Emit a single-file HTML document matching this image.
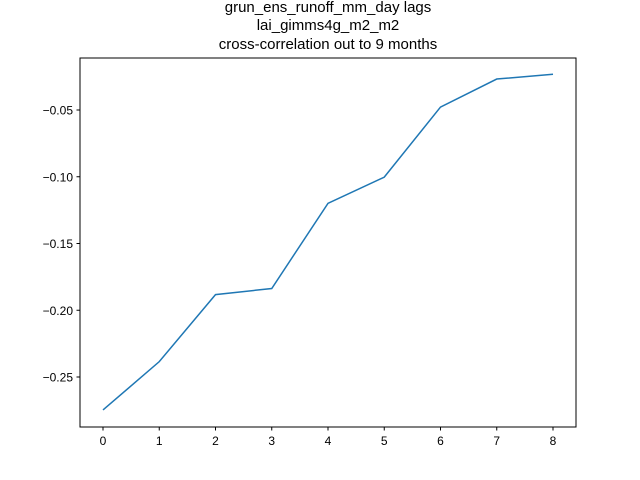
<!DOCTYPE html>
<html><head><meta charset="utf-8"><style>
body{margin:0;background:#fff}
svg{display:block;font-family:"Liberation Sans","DejaVu Sans",sans-serif}
</style></head><body>
<svg id="chart" width="640" height="480">
<rect width="640" height="480" fill="#fff"/>
<g font-size="15" text-anchor="middle" fill="#000">
<text x="328" y="12">grun_ens_runoff_mm_day lags</text>
<text x="328" y="30">lai_gimms4g_m2_m2</text>
<text x="328" y="49">cross-correlation out to 9 months</text>
</g>
<g id="ticks"></g>
<path id="line" fill="none" stroke="#1f77b4" stroke-width="1.5"/>
<rect x="80" y="58" width="496" height="369" fill="none" stroke="#000" stroke-width="1"/>
</svg>
<script>
const lags=[0,1,2,3,4,5,6,7,8];
const values=[-0.2747,-0.2385,-0.1883,-0.1837,-0.1199,-0.1003,-0.0478,-0.0268,-0.0232];
const yTicks=[-0.25,-0.20,-0.15,-0.10,-0.05];
const yTickLabels=["−0.25","−0.20","−0.15","−0.10","−0.05"];
const xTicks=[0,1,2,3,4,5,6,7,8];
const xs=v=>103+v*56.25;
const ys=v=>110+(-0.05-v)/0.05*66.75;
const NS="http://www.w3.org/2000/svg";
const g=document.getElementById('ticks');
function mk(t,a){const e=document.createElementNS(NS,t);for(const k in a)e.setAttribute(k,a[k]);return e;}
xTicks.forEach(t=>{
 const l=mk('line',{x1:xs(t),x2:xs(t),y1:427,y2:430.5,stroke:'#000'});
 
 
 g.appendChild(l);
 const tx=mk('text',{x:xs(t),y:445,'font-size':'12','text-anchor':'middle'});
 
 
 tx.textContent=t;g.appendChild(tx);
});
yTicks.forEach((t,i)=>{
 const l=mk('line',{x1:76.5,x2:80,y1:ys(t),y2:ys(t),stroke:'#000'});
 
 
 g.appendChild(l);
 const tx=mk('text',{x:73,y:ys(t)+4.5,'font-size':'12','text-anchor':'end'});
 
 
 tx.textContent=yTickLabels[i];g.appendChild(tx);
});
document.getElementById('line').setAttribute('d',lags.map((x,i)=>(i?'L':'M')+xs(x)+','+ys(values[i])).join(''));
</script>
</body></html>
